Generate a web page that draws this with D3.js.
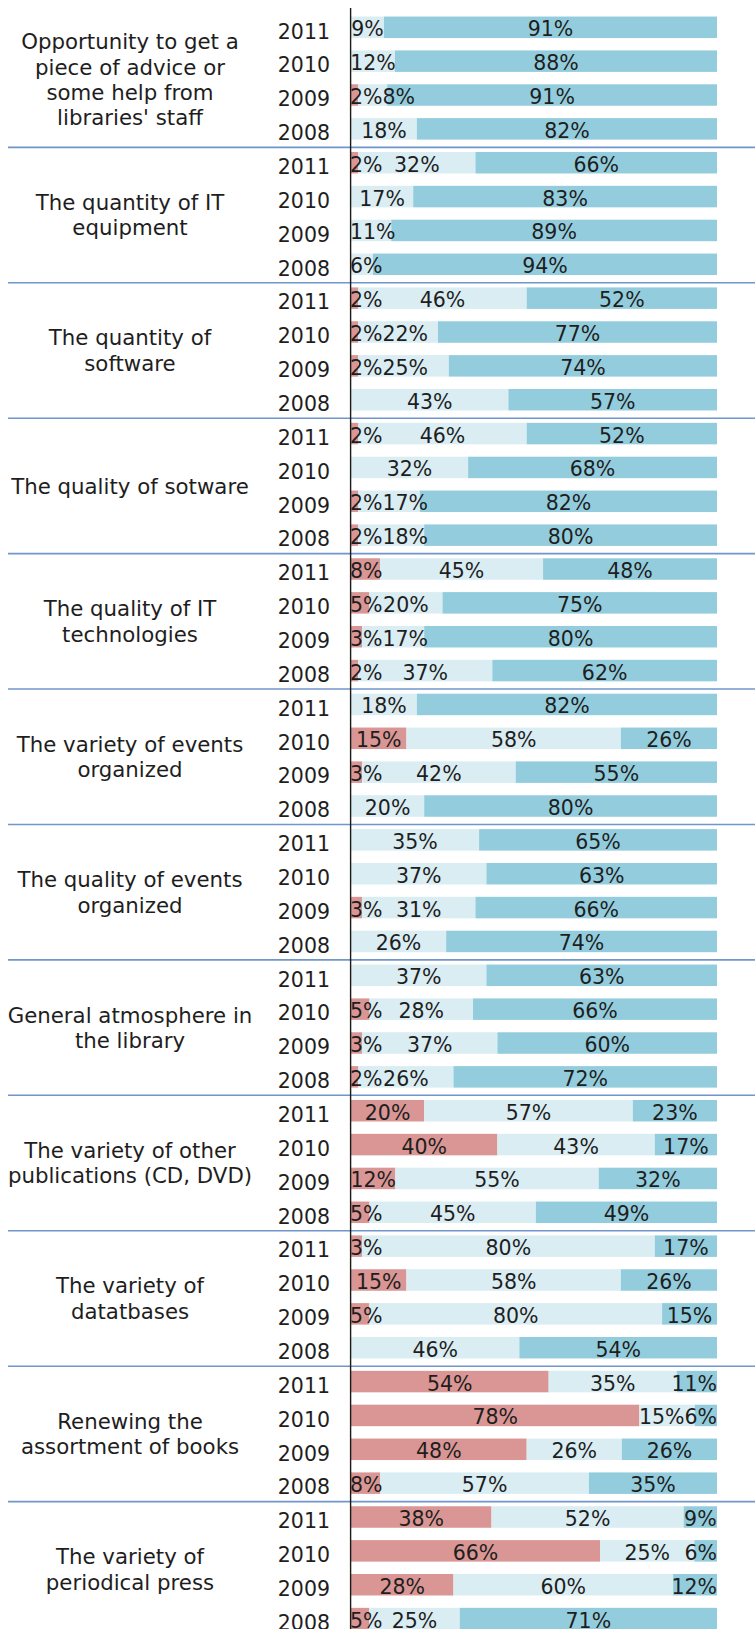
<!DOCTYPE html>
<html>
<head>
<meta charset="utf-8">
<script src="https://cdn.jsdelivr.net/npm/d3@7"></script>
<style>
  html, body { margin: 0; padding: 0; background: #ffffff; }
  svg { display: block; font-family: "DejaVu Sans", Verdana, sans-serif; }
</style>
</head>
<body>
<svg id="chart" width="755" height="1629"></svg>
<script>
// Survey items, one block of four yearly bars each
const categories = [
  "Opportunity to get a\npiece of advice or\nsome help from\nlibraries' staff",
  "The quantity of IT\nequipment",
  "The quantity of\nsoftware",
  "The quality of sotware",
  "The quality of IT\ntechnologies",
  "The variety of events\norganized",
  "The quality of events\norganized",
  "General atmosphere in\nthe library",
  "The variety of other\npublications (CD, DVD)",
  "The variety of\ndatatbases",
  "Renewing the\nassortment of books",
  "The variety of\nperiodical press"
];

const years = ["2011", "2010", "2009", "2008"];

// Shares (%) per item, in the order of `years`
const negative = [
  [0, 0, 2, 0], [2, 0, 0, 0], [2, 2, 2, 0], [2, 0, 2, 2],
  [8, 5, 3, 2], [0, 15, 3, 0], [0, 0, 3, 0], [0, 5, 3, 2],
  [20, 40, 12, 5], [3, 15, 5, 0], [54, 78, 48, 8], [38, 66, 28, 5]
];
const neutral = [
  [9, 12, 8, 18], [32, 17, 11, 6], [46, 22, 25, 43], [46, 32, 17, 18],
  [45, 20, 17, 37], [18, 58, 42, 20], [35, 37, 31, 26], [37, 28, 37, 26],
  [57, 43, 55, 45], [80, 58, 80, 46], [35, 15, 26, 57], [52, 25, 60, 25]
];
const positive = [
  [91, 88, 91, 82], [66, 83, 89, 94], [52, 77, 74, 57], [52, 68, 82, 80],
  [48, 75, 80, 62], [82, 26, 55, 80], [65, 63, 66, 74], [63, 66, 60, 72],
  [23, 17, 32, 49], [17, 26, 15, 54], [11, 6, 26, 35], [9, 6, 12, 71]
];

const seriesColors = ["#d99694", "#daedf3", "#93cddd"];

// ---- layout ----
const W = 755, H = 1629;
const chartTop = 11.9;
const rowStep = 33.857;
const barH = 21.5;
const barOffset = 15.4;          // bar centre below the top of its row band
const plotLeft = 350, plotRight = 717;
const fontSize = 20.5;
const itemFontSize = 21.3;

const svg = d3.select("#chart");

// one row per (item, year)
const rows = [];
categories.forEach((c, ci) => {
  years.forEach((yr, yi) => {
    const vals = [negative[ci][yi], neutral[ci][yi], positive[ci][yi]];
    const total = d3.sum(vals);
    let acc = 0;
    const segs = vals.map((v, si) => {
      const s = { value: v, start: acc / total, end: (acc + v) / total, series: si };
      acc += v;
      return s;
    });
    rows.push({ key: ci + "-" + yr, ci, yi, year: yr, segs });
  });
});

const x = d3.scaleLinear().domain([0, 1]).range([351, 717]);
const y = d3.scaleBand()
  .domain(rows.map(r => r.key))
  .range([chartTop, chartTop + rows.length * rowStep])
  .paddingInner(0).paddingOuter(0);

const groupY = d3.scaleLinear()
  .domain([0, categories.length])
  .range([chartTop, chartTop + categories.length * 4 * rowStep]);

const barCenter = r => y(r.key) + barOffset;

// ---- bars ----
const rowG = svg.append("g").attr("class", "rows")
  .selectAll("g").data(rows).join("g");

rowG.selectAll("rect")
  .data(r => r.segs.filter(s => s.value > 0).map(s => ({ ...s, row: r })))
  .join("rect")
  .attr("x", d => x(d.start))
  .attr("width", d => x(d.end) - x(d.start))
  .attr("y", d => barCenter(d.row) - barH / 2)
  .attr("height", barH)
  .attr("fill", d => seriesColors[d.series]);

// ---- value labels ----
rowG.each(function (r) {
  const g = d3.select(this);
  const labels = r.segs.filter(s => s.value > 0).map(s => {
    const t = g.append("text")
      .attr("font-size", fontSize)
      .attr("fill", "#1e1e1e")
      .attr("y", barCenter(r) + 9)
      .text(s.value + "%");
    const w = t.node().getComputedTextLength();
    return { t, w, cx: (x(s.start) + x(s.end)) / 2 };
  });
  labels.forEach(l => { l.left = l.cx - l.w / 2; });
  // keep labels inside the plot and clear of each other
  labels.forEach((l, i) => {
    l.left = Math.max(l.left, plotLeft);
    if (i > 0) l.left = Math.max(l.left, labels[i - 1].left + labels[i - 1].w);
  });
  for (let i = labels.length - 1; i >= 0; i--) {
    const l = labels[i];
    const limit = i === labels.length - 1 ? plotRight : labels[i + 1].left;
    if (l.left + l.w > limit) l.left = limit - l.w;
  }
  labels.forEach(l => l.t.attr("x", l.left));
});

// ---- year labels ----
svg.append("g").attr("class", "years")
  .selectAll("text").data(rows).join("text")
  .attr("x", 330)
  .attr("y", r => barCenter(r) + 11.3)
  .attr("text-anchor", "end")
  .attr("font-size", fontSize)
  .attr("fill", "#1e1e1e")
  .text(r => r.year);

// ---- group separators ----
svg.append("g").attr("class", "separators")
  .selectAll("line").data(d3.range(1, categories.length + 1)).join("line")
  .attr("x1", 8).attr("x2", W)
  .attr("y1", k => groupY(k)).attr("y2", k => groupY(k))
  .attr("stroke", "#7196cb")
  .attr("stroke-width", 1.6);

// ---- vertical axis line ----
svg.append("line")
  .attr("x1", 350.6).attr("x2", 350.6)
  .attr("y1", 8).attr("y2", H)
  .attr("stroke", "#1a1a1a")
  .attr("stroke-width", 1.4);

// ---- item labels ----
const lineH = 25.4;
const catG = svg.append("g").attr("class", "items")
  .selectAll("text").data(categories).join("text")
  .attr("text-anchor", "middle")
  .attr("font-size", itemFontSize)
  .attr("fill", "#1e1e1e");

catG.each(function (c, i) {
  const lines = c.split("\n");
  const mid = (groupY(i) + groupY(i + 1)) / 2;
  d3.select(this).selectAll("tspan").data(lines).join("tspan")
    .attr("x", 130)
    .attr("y", (l, j) => mid + 7.7 + (j - (lines.length - 1) / 2) * lineH)
    .text(l => l);
});
</script>
</body>
</html>
